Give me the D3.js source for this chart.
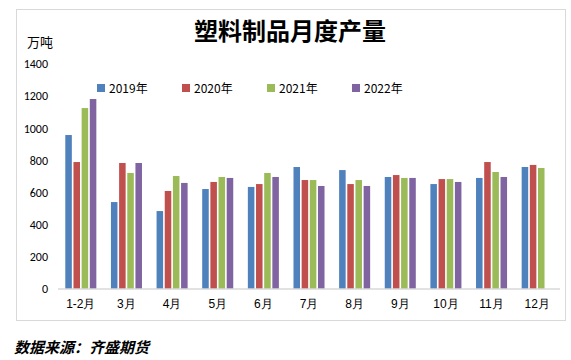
<!DOCTYPE html>
<html><head><meta charset="utf-8">
<script src="https://cdn.jsdelivr.net/npm/d3@7/dist/d3.min.js"></script>
<style>
body{margin:0;background:#fff;}
svg{display:block;font-family:"Noto Sans CJK SC","Noto Sans",sans-serif;}
</style></head>
<body>
<svg id="chart" width="571" height="360"></svg>
<script>
const categories = ["1-2月","3月","4月","5月","6月","7月","8月","9月","10月","11月","12月"];
const seriesNames = ["2019年","2020年","2021年","2022年"];
const colors = ["#4f81bd","#c0504d","#9bbb59","#8064a2"];
const v2019 = [958,541,485,622,635,759,740,697,653,691,759];
const v2020 = [790,784,610,666,653,678,653,709,684,790,772];
const v2021 = [1126,722,703,697,722,678,678,691,684,728,753];
const v2022 = [1182,784,660,691,697,641,641,691,666,697,null];
const yTicks = [0,200,400,600,800,1000,1200,1400];
const seriesValues = [v2019,v2020,v2021,v2022];

const svg = d3.select("#chart");
svg.append("rect").attr("x",16.5).attr("y",9.5).attr("width",549).attr("height",311)
  .attr("fill","#fff").attr("stroke","#d9d9d9").attr("stroke-width",1);

const x0 = d3.scaleBand().domain(categories).range([58,560]).paddingInner(0.32).paddingOuter(0.16);
const x1 = d3.scaleBand().domain(seriesNames).range([0,x0.bandwidth()]).paddingInner(0.2);
const y = d3.scaleLinear().domain([0,1400]).range([289,64]);

// y axis labels
const yAxis = d3.axisLeft(y).tickValues(yTicks).tickFormat(d3.format("d")).tickSize(0).tickPadding(0);
const gy = svg.append("g").attr("transform","translate(48,0)").call(yAxis);
gy.select(".domain").remove();
gy.selectAll("text").attr("font-size",12).attr("fill","#000").attr("font-family","Carlito,Calibri,'Liberation Sans',sans-serif");

// bars
seriesValues.forEach((vals,si)=>{
  svg.append("g").selectAll("rect").data(categories.map((c,i)=>({c,v:vals[i]})).filter(d=>d.v!=null))
    .join("rect")
    .attr("x",d=>x0(d.c)+x1(seriesNames[si]))
    .attr("width",x1.bandwidth())
    .attr("y",d=>y(d.v))
    .attr("height",d=>y(0)-y(d.v))
    .attr("fill",colors[si]);
});

// x axis
const xAxis = d3.axisBottom(x0).tickSize(0).tickPadding(10);
const gx = svg.append("g").attr("transform","translate(0,289)").call(xAxis);
gx.select(".domain").attr("stroke","#d9d9d9").attr("stroke-width",1.5).attr("d","M58,0H560");
gx.selectAll("text").attr("font-size",12).attr("fill","#000");

// title
svg.append("text").attr("x",290).attr("y",40).attr("text-anchor","middle")
  .attr("font-size",24).attr("font-weight","bold").attr("fill","#000").text("塑料制品月度产量");
// unit
svg.append("text").attr("x",27).attr("y",47).attr("font-size",13).attr("fill","#000").text("万吨");

// legend
const legendX = [97,182,267,352];
seriesNames.forEach((n,i)=>{
  const g = svg.append("g").attr("transform",`translate(${legendX[i]},88)`);
  g.append("rect").attr("x",0).attr("y",-4).attr("width",8).attr("height",8).attr("fill",colors[i]);
  g.append("text").attr("x",12).attr("y",4.5).attr("font-size",12).attr("fill","#000").text(n);
});

// footer
svg.append("text").attr("x",14).attr("y",353).attr("font-size",15).attr("font-weight","bold")
  .attr("font-style","italic").attr("fill","#000").text("数据来源：齐盛期货");
</script>
</body></html>
